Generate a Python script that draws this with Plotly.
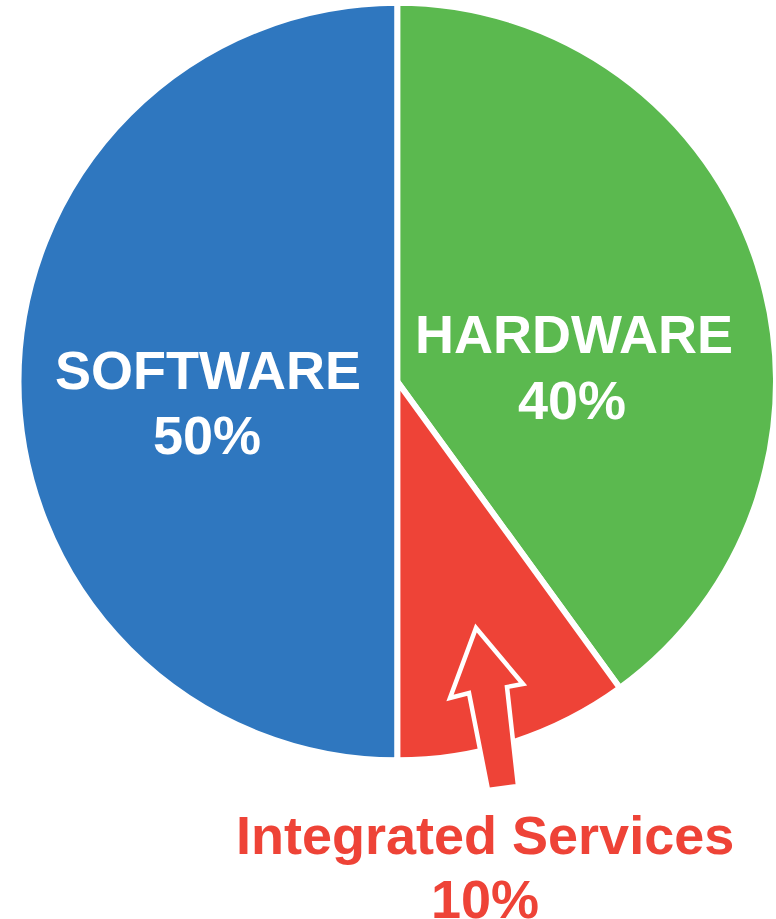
import plotly.graph_objects as go

# ---- data ----
labels = ["HARDWARE", "Integrated Services", "SOFTWARE"]
values = [40, 10, 50]
colors = ["#5bb94f", "#ee4337", "#2f77bf"]

W, H = 776, 919

def px(x, y):
    return x / W, 1 - y / H

fig = go.Figure()
fig.add_trace(go.Pie(
    labels=labels,
    values=values,
    sort=False,
    direction="clockwise",
    rotation=0,
    textinfo="none",
    hoverinfo="label+percent",
    marker=dict(colors=colors, line=dict(color="white", width=6)),
    domain=dict(x=[0.0238, 1.0], y=[0.1719, 0.9978]),
    showlegend=False,
))

font_family = "Liberation Sans, Arial, Helvetica, sans-serif"

def add_label(text, cx, cy, color):
    x, y = px(cx, cy)
    fig.add_annotation(
        x=x, y=y, xref="paper", yref="paper",
        text=text, showarrow=False,
        xanchor="center", yanchor="middle",
        font=dict(family=font_family, size=54, color=color, weight="bold"),
    )

pct = {l: f"{v}%" for l, v in zip(labels, values)}

# label positions (line centres)
add_label(labels[2], 208, 370, "white")
add_label(pct[labels[2]], 207, 435, "white")
add_label(labels[0], 574, 334, "white")
add_label(pct[labels[0]], 572, 400, "white")
add_label(labels[1], 485, 835, "#ee4337")
add_label(pct[labels[1]], 485, 899, "#ee4337")

# block arrow pointing into the Integrated Services slice
arrow_pts = [(476, 628), (523, 684), (507, 687), (518, 786),
             (488, 790), (469, 693), (450, 698)]
path = "M " + " L ".join(f"{px(a, b)[0]:.5f},{px(a, b)[1]:.5f}" for a, b in arrow_pts) + " Z"
fig.add_shape(type="path", path=path, xref="paper", yref="paper",
              fillcolor="#ee4337", line=dict(color="white", width=4.5))

fig.update_layout(
    width=W, height=H,
    margin=dict(l=0, r=0, t=0, b=0),
    paper_bgcolor="white",
    plot_bgcolor="white",
)

fig.write_html("out.html")
